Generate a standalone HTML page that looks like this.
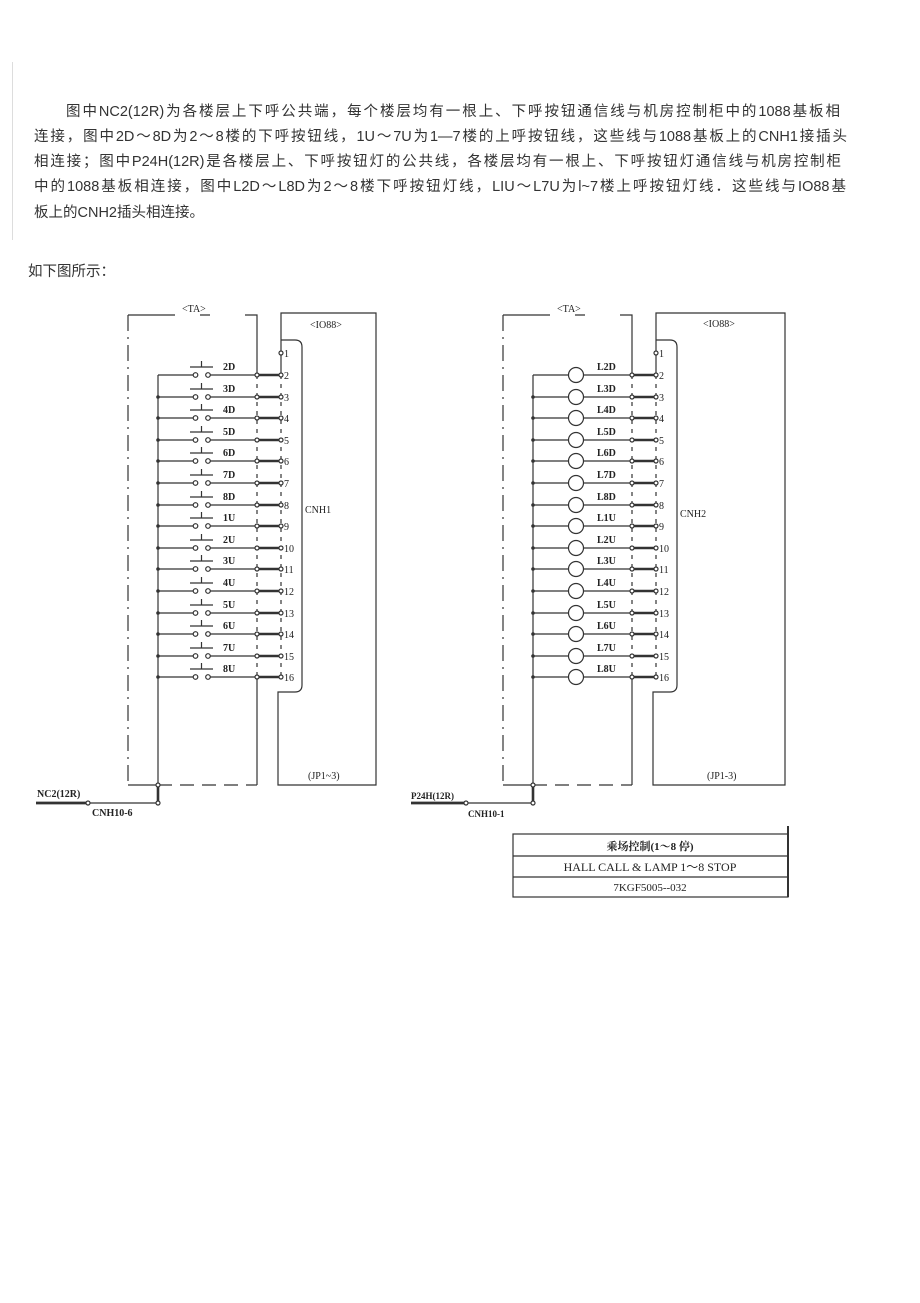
<!DOCTYPE html>
<html><head><meta charset="utf-8"><style>
body{margin:0;width:920px;height:1303px;background:#fff;position:relative;overflow:hidden;font-family:"Liberation Sans","Noto Sans CJK SC",sans-serif;color:#333}
.l{position:absolute;font-size:14.5px;white-space:nowrap;text-align:justify;text-align-last:justify;height:20px;line-height:20px}
</style></head><body>
<div style="position:absolute;left:12px;top:62px;width:1px;height:178px;background:#ddd"></div>
<div class="l" style="left:66px;top:102px;width:774px">图中NC2(12R)为各楼层上下呼公共端，每个楼层均有一根上、下呼按钮通信线与机房控制柜中的1088基板相</div>
<div class="l" style="left:34px;top:127px;width:813px">连接，图中2D～8D为2～8楼的下呼按钮线，1U～7U为1—7楼的上呼按钮线，这些线与1088基板上的CNH1接插头</div>
<div class="l" style="left:34px;top:152px;width:807px">相连接；图中P24H(12R)是各楼层上、下呼按钮灯的公共线，各楼层均有一根上、下呼按钮灯通信线与机房控制柜</div>
<div class="l" style="left:34px;top:177px;width:812px">中的1088基板相连接，图中L2D～L8D为2～8楼下呼按钮灯线，LIU～L7U为l~7楼上呼按钮灯线．这些线与IO88基</div>
<div class="l" style="left:34px;top:203px;text-align:left;text-align-last:left">板上的CNH2插头相连接。</div>
<div class="l" style="left:28px;top:262px;text-align:left;text-align-last:left">如下图所示：</div>
<svg width="920" height="1303" style="position:absolute;left:0;top:0" font-family="Liberation Serif,serif" font-size="10" font-weight="bold" fill="#222">
<defs>
<g id="rL" stroke="#333" stroke-width="1.2" fill="none">
<line x1="158" y1="0" x2="193" y2="0"/><circle cx="195.5" cy="0" r="2.3" fill="#fff"/><circle cx="208" cy="0" r="2.3" fill="#fff"/>
<line x1="210.5" y1="0" x2="255" y2="0"/><circle cx="257" cy="0" r="2" fill="#fff"/><line x1="259" y1="0" x2="279" y2="0" stroke-width="2.6"/><circle cx="281" cy="0" r="2" fill="#fff"/>
<line x1="190" y1="-8" x2="213" y2="-8"/><line x1="201.5" y1="-8" x2="201.5" y2="-14"/>
</g>
<g id="rR" stroke="#333" stroke-width="1.2" fill="none">
<line x1="533" y1="0" x2="568" y2="0"/><circle cx="576" cy="0" r="7.5" fill="#fff"/>
<line x1="583.5" y1="0" x2="630" y2="0"/><circle cx="632" cy="0" r="2" fill="#fff"/><line x1="634" y1="0" x2="654" y2="0" stroke-width="2.6"/><circle cx="656" cy="0" r="2" fill="#fff"/>
</g>
</defs>
<g stroke="#333" stroke-width="1.2" fill="none">
<!-- left frames -->
<path d="M128 315H175M200 315H210M245 315H257V375" stroke-dasharray="none"/>
<line x1="128" y1="315" x2="128" y2="785" stroke-dasharray="16 6 2 6"/>
<line x1="257" y1="375" x2="257" y2="677" stroke-dasharray="4 5"/>
<line x1="281" y1="375" x2="281" y2="677" stroke-dasharray="4 5"/>
<line x1="257" y1="677" x2="257" y2="785"/>
<line x1="128" y1="785" x2="158" y2="785"/>
<line x1="158" y1="785" x2="257" y2="785" stroke-dasharray="14 8"/>
<path d="M281 375V313H376V785H278V692H295Q302 692 302 685V347Q302 340 295 340H281"/>
<circle cx="281" cy="353" r="2" fill="#fff"/>
<path d="M158 375V803"/><path d="M158 785V803" stroke-width="2.6"/><path d="M158 803H90"/><path d="M86 803H36" stroke-width="2.8"/>
<circle cx="158" cy="785" r="2" fill="#fff"/><circle cx="158" cy="803" r="2" fill="#fff"/><circle cx="88" cy="803" r="2" fill="#fff"/>
<!-- right frames -->
<path d="M503 315H550M575 315H585M620 315H632V375"/>
<line x1="503" y1="315" x2="503" y2="785" stroke-dasharray="16 6 2 6"/>
<line x1="632" y1="375" x2="632" y2="677" stroke-dasharray="4 5"/>
<line x1="656" y1="375" x2="656" y2="677" stroke-dasharray="4 5"/>
<line x1="632" y1="677" x2="632" y2="785"/>
<line x1="503" y1="785" x2="533" y2="785"/>
<line x1="533" y1="785" x2="632" y2="785" stroke-dasharray="14 8"/>
<path d="M656 375V313H785V785H653V692H670Q677 692 677 685V347Q677 340 670 340H656"/>
<circle cx="656" cy="353" r="2" fill="#fff"/>
<path d="M533 375V803"/><path d="M533 785V803" stroke-width="2.6"/><path d="M533 803H468"/><path d="M464 803H411" stroke-width="2.8"/>
<circle cx="533" cy="785" r="2" fill="#fff"/><circle cx="533" cy="803" r="2" fill="#fff"/><circle cx="466" cy="803" r="2" fill="#fff"/>
<!-- title block -->
<rect x="513" y="834" width="275" height="63"/><line x1="513" y1="856" x2="788" y2="856"/><line x1="513" y1="877" x2="788" y2="877"/>
<line x1="788" y1="826" x2="788" y2="897" stroke-width="2"/>
</g>
<g fill="#333">
<circle cx="158" cy="397" r="1.8"/><circle cx="158" cy="418" r="1.8"/><circle cx="158" cy="440" r="1.8"/><circle cx="158" cy="461" r="1.8"/><circle cx="158" cy="483" r="1.8"/><circle cx="158" cy="505" r="1.8"/><circle cx="158" cy="526" r="1.8"/><circle cx="158" cy="548" r="1.8"/><circle cx="158" cy="569" r="1.8"/><circle cx="158" cy="591" r="1.8"/><circle cx="158" cy="613" r="1.8"/><circle cx="158" cy="634" r="1.8"/><circle cx="158" cy="656" r="1.8"/><circle cx="158" cy="677" r="1.8"/>
<circle cx="533" cy="397" r="1.8"/><circle cx="533" cy="418" r="1.8"/><circle cx="533" cy="440" r="1.8"/><circle cx="533" cy="461" r="1.8"/><circle cx="533" cy="483" r="1.8"/><circle cx="533" cy="505" r="1.8"/><circle cx="533" cy="526" r="1.8"/><circle cx="533" cy="548" r="1.8"/><circle cx="533" cy="569" r="1.8"/><circle cx="533" cy="591" r="1.8"/><circle cx="533" cy="613" r="1.8"/><circle cx="533" cy="634" r="1.8"/><circle cx="533" cy="656" r="1.8"/><circle cx="533" cy="677" r="1.8"/>
</g>
<use href="#rL" y="375"/><use href="#rL" y="397"/><use href="#rL" y="418"/><use href="#rL" y="440"/><use href="#rL" y="461"/><use href="#rL" y="483"/><use href="#rL" y="505"/><use href="#rL" y="526"/><use href="#rL" y="548"/><use href="#rL" y="569"/><use href="#rL" y="591"/><use href="#rL" y="613"/><use href="#rL" y="634"/><use href="#rL" y="656"/><use href="#rL" y="677"/>
<use href="#rR" y="375"/><use href="#rR" y="397"/><use href="#rR" y="418"/><use href="#rR" y="440"/><use href="#rR" y="461"/><use href="#rR" y="483"/><use href="#rR" y="505"/><use href="#rR" y="526"/><use href="#rR" y="548"/><use href="#rR" y="569"/><use href="#rR" y="591"/><use href="#rR" y="613"/><use href="#rR" y="634"/><use href="#rR" y="656"/><use href="#rR" y="677"/>
<g font-weight="normal" font-size="10">
<text x="182" y="312">&lt;TA&gt;</text><text x="310" y="328">&lt;IO88&gt;</text><text x="305" y="513">CNH1</text><text x="308" y="779">(JP1~3)</text>
<text x="557" y="312">&lt;TA&gt;</text><text x="703" y="327">&lt;IO88&gt;</text><text x="680" y="517">CNH2</text><text x="707" y="779">(JP1-3)</text>
</g>
<text x="37" y="797">NC2(12R)</text><text x="92" y="816">CNH10-6</text>
<text x="411" y="799" font-size="9">P24H(12R)</text><text x="468" y="817" font-size="9">CNH10-1</text>
<g font-size="10" font-weight="normal">
<text x="284" y="357">1</text><text x="284" y="379">2</text><text x="284" y="401">3</text><text x="284" y="422">4</text><text x="284" y="444">5</text><text x="284" y="465">6</text><text x="284" y="487">7</text><text x="284" y="509">8</text><text x="284" y="530">9</text><text x="284" y="552">10</text><text x="284" y="573">11</text><text x="284" y="595">12</text><text x="284" y="617">13</text><text x="284" y="638">14</text><text x="284" y="660">15</text><text x="284" y="681">16</text>
<text x="659" y="357">1</text><text x="659" y="379">2</text><text x="659" y="401">3</text><text x="659" y="422">4</text><text x="659" y="444">5</text><text x="659" y="465">6</text><text x="659" y="487">7</text><text x="659" y="509">8</text><text x="659" y="530">9</text><text x="659" y="552">10</text><text x="659" y="573">11</text><text x="659" y="595">12</text><text x="659" y="617">13</text><text x="659" y="638">14</text><text x="659" y="660">15</text><text x="659" y="681">16</text>
</g>
<g>
<text x="223" y="370">2D</text><text x="223" y="392">3D</text><text x="223" y="413">4D</text><text x="223" y="435">5D</text><text x="223" y="456">6D</text><text x="223" y="478">7D</text><text x="223" y="500">8D</text><text x="223" y="521">1U</text><text x="223" y="543">2U</text><text x="223" y="564">3U</text><text x="223" y="586">4U</text><text x="223" y="608">5U</text><text x="223" y="629">6U</text><text x="223" y="651">7U</text><text x="223" y="672">8U</text>
<text x="597" y="370">L2D</text><text x="597" y="392">L3D</text><text x="597" y="413">L4D</text><text x="597" y="435">L5D</text><text x="597" y="456">L6D</text><text x="597" y="478">L7D</text><text x="597" y="500">L8D</text><text x="597" y="521">L1U</text><text x="597" y="543">L2U</text><text x="597" y="564">L3U</text><text x="597" y="586">L4U</text><text x="597" y="608">L5U</text><text x="597" y="629">L6U</text><text x="597" y="651">L7U</text><text x="597" y="672">L8U</text>
</g>
<g text-anchor="middle" font-size="11">
<text x="650" y="850" font-family="Liberation Serif,Noto Serif CJK SC,serif">乘场控制(1～8 停)</text>
<text x="650" y="871" font-weight="normal" font-size="12">HALL CALL &amp; LAMP 1～8 STOP</text>
<text x="650" y="891" font-weight="normal" font-size="11">7KGF5005--032</text>
</g>
</svg>
</body></html>
